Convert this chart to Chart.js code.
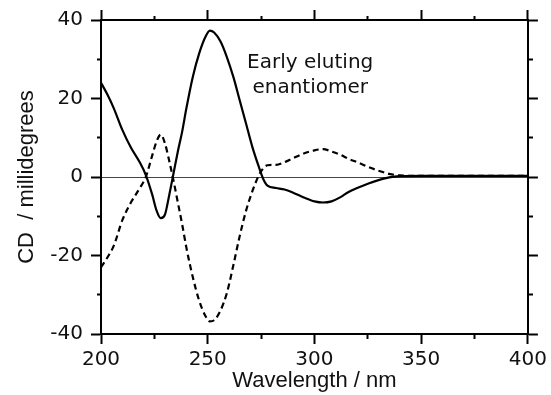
<!DOCTYPE html>
<html>
<head>
<meta charset="utf-8">
<script src="https://cdn.jsdelivr.net/npm/chart.js@4.4.1/dist/chart.umd.min.js"></script>
<style>
  html, body { margin: 0; padding: 0; background: #fff; }
</style>
</head>
<body>
<canvas id="graficoCD" width="551" height="395"></canvas>
<script>
// Dados (CD em millidegrees)
const wavelengths = [200, 203, 206, 210, 214, 218, 221, 224, 226, 228, 230, 232, 234, 236, 238, 240, 243, 246, 249, 251,
  253, 256, 259, 262, 265, 268, 271, 274, 276, 278, 282, 286, 290, 295, 300, 304, 308, 312, 316, 320,
  325, 330, 335, 340, 350, 360, 370, 380, 390, 400];
const earlyCD = [24, 21, 17.5, 12, 7.5, 3.9, 0.5, -4.5, -8.5, -10.5, -9.5, -4.5, 1, 6.5, 11.5, 17.5, 25.5, 31.5, 35.8, 37.3,
  36.8, 34.5, 30.5, 25.5, 19.5, 13.5, 7.5, 2.5, -0.5, -2.2, -2.8, -3.2, -4, -5.2, -6.2, -6.5, -6.2, -5.2, -3.8, -2.8,
  -1.7, -0.8, -0.1, 0.2, 0.3, 0.3, 0.3, 0.3, 0.3, 0.3];
const lateCD = [-23, -20.5, -17.5, -11, -6.5, -3, 0, 5.5, 9, 10.8, 8.5, 4, -1, -6.5, -12, -18, -25.5, -31.5, -35.5, -36.8,
  -36.5, -34, -29.5, -22.5, -15, -8.5, -3.5, 0.5, 2.2, 3, 3.1, 3.8, 4.8, 6, 6.8, 7.1, 6.5, 5.7, 4.6, 3.8,
  2.6, 1.6, 0.8, 0.4, 0.3, 0.3, 0.3, 0.3, 0.3, 0.3];

// Marcas dos eixos
const xTicks = [200, 250, 300, 350, 400];
const yTicks = [-40, -20, 0, 20, 40];
const annotationLines = ['Early eluting', 'enantiomer'];

const fonteTicks = { family: '"DejaVu Sans"', size: 20 };
const fonteTitulo = { family: '"Liberation Sans", Arial', size: 22 };

// Posição do texto (em coordenadas dos dados)
const annotationAt = { x: 298, y: 29 };

function pontos(valores) {
  return wavelengths.map((w, i) => ({ x: w, y: valores[i] }));
}

/**
 * Configura um eixo com marcas maiores e menores para fora
 */
function eixo(position, min, max, step, majors, tamanho, extra) {
  const minorDash = (position === 'top' || position === 'left') ? [0, 6, 4, 100] : [4, 100];
  const base = {
    type: 'linear',
    position: position,
    min: min,
    max: max,
    border: { display: true, color: '#000', width: 2 },
    grid: {
      drawOnChartArea: false,
      drawTicks: true,
      tickLength: 10,
      tickWidth: 2,
      tickColor: '#000',
      tickBorderDash: ctx => majors.includes(ctx.tick.value) ? [] : minorDash
    },
    ticks: {
      stepSize: step,
      autoSkip: false,
      maxRotation: 0,
      display: false
    },
    afterFit: s => {
      if (position === 'left' || position === 'right') s.width = tamanho;
      else s.height = tamanho;
    }
  };
  return Object.assign(base, extra || {});
}

// Escreve a anotação dentro do gráfico
const anotacao = {
  id: 'anotacao',
  afterDatasetsDraw(chart) {
    const { ctx, scales: { x, y } } = chart;
    ctx.save();
    ctx.font = '20px "DejaVu Sans"';
    ctx.fillStyle = '#111';
    ctx.textAlign = 'center';
    ctx.textBaseline = 'middle';
    annotationLines.forEach((linha, i) => {
      ctx.fillText(linha, x.getPixelForValue(annotationAt.x), y.getPixelForValue(annotationAt.y) + i * 25);
    });
    ctx.restore();
  }
};

const eixoX = eixo('bottom', 200, 400, 25, xTicks, 61);
eixoX.ticks = {
  stepSize: 25, autoSkip: false, maxRotation: 0, display: true,
  color: '#111', font: fonteTicks, padding: 4,
  callback: v => xTicks.includes(v) ? String(v) : ''
};
eixoX.title = { display: true, text: 'Wavelength / nm', color: '#111', font: fonteTitulo, padding: { top: 0, bottom: 1 } };

const eixoY = eixo('left', -40, 40, 10, yTicks, 101);
eixoY.ticks = {
  stepSize: 10, autoSkip: false, display: true,
  color: '#111', font: fonteTicks, padding: 8,
  callback: v => yTicks.includes(v) ? String(v) : ''
};
eixoY.grid.drawOnChartArea = true;
eixoY.grid.color = ctx => ctx.tick && ctx.tick.value === 0 ? '#444' : 'rgba(0,0,0,0)';
eixoY.grid.lineWidth = 1;
eixoY.title = { display: true, text: 'CD  / millidegrees', color: '#111', font: fonteTitulo, padding: { top: 14, bottom: 0 } };

new Chart(document.getElementById('graficoCD'), {
  type: 'line',
  data: {
    datasets: [
      {
        label: 'Early eluting',
        data: pontos(earlyCD),
        borderColor: '#000',
        borderWidth: 2.2,
        pointRadius: 0,
        cubicInterpolationMode: 'monotone',
        fill: false
      },
      {
        label: 'Late eluting',
        data: pontos(lateCD),
        borderColor: '#000',
        borderWidth: 2.2,
        borderDash: [6, 4],
        pointRadius: 0,
        cubicInterpolationMode: 'monotone',
        fill: false
      }
    ]
  },
  options: {
    responsive: false,
    animation: false,
    layout: { padding: 0 },
    plugins: {
      legend: { display: false },
      tooltip: { enabled: false }
    },
    scales: {
      x: eixoX,
      xTopo: eixo('top', 200, 400, 25, xTicks, 17),
      y: eixoY,
      yDireita: eixo('right', -40, 40, 10, yTicks, 22)
    }
  },
  plugins: [anotacao]
});
</script>
</body>
</html>
